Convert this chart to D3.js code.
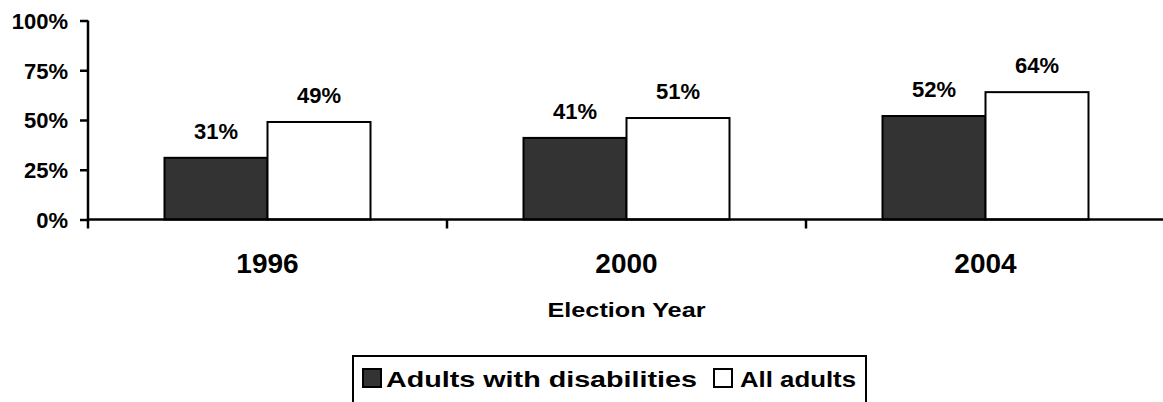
<!DOCTYPE html>
<html>
<head>
<meta charset="utf-8">
<script src="https://cdn.jsdelivr.net/npm/d3@7"></script>
<style>
  html, body { margin: 0; padding: 0; background: #fff; }
  svg { display: block; }
  text { font-family: "Liberation Sans", Arial, Helvetica, sans-serif; font-weight: bold; fill: #000; }
</style>
</head>
<body>
<svg id="chart" width="1163" height="402"></svg>
<script>
// Election years on the x axis
const years = ["1996", "2000", "2004"];
// Series names, in legend order
const seriesNames = ["Adults with disabilities", "All adults"];
// Voting rate (%) by year for each series
const disabledAdults = [31, 41, 52];
const allAdults = [49, 51, 64];
// Y axis tick values (%)
const yTicks = [0, 25, 50, 75, 100];

const seriesValues = [disabledAdults, allAdults];
const fills = ["#333333", "#ffffff"];

const svg = d3.select("#chart");
const plot = { left: 88, right: 1165, top: 20.5, bottom: 219.5 };

const y = d3.scaleLinear().domain([0, 100]).range([plot.bottom, plot.top]);
const x0 = d3.scaleBand().domain(years).range([plot.left, plot.right]).padding(0);
const bw = x0.bandwidth();
const x1 = d3.scaleBand().domain(seriesNames).range([bw * 0.2131, bw * 0.7869]).padding(0);

// Bars
const groups = svg.append("g").selectAll("g")
  .data(years)
  .join("g")
  .attr("transform", d => `translate(${x0(d)},0)`);

groups.selectAll("rect")
  .data((d, i) => seriesNames.map((s, j) => ({ s, v: seriesValues[j][i], j })))
  .join("rect")
  .attr("x", d => x1(d.s))
  .attr("y", d => y(d.v))
  .attr("width", x1.bandwidth())
  .attr("height", d => y(0) - y(d.v))
  .attr("fill", d => fills[d.j])
  .attr("stroke", "#000")
  .attr("stroke-width", 2);

// Value labels above bars
groups.selectAll("text.val")
  .data((d, i) => seriesNames.map((s, j) => ({ s, v: seriesValues[j][i] })))
  .join("text")
  .attr("class", "val")
  .attr("x", d => x1(d.s) + x1.bandwidth() / 2)
  .attr("y", d => y(d.v) - 19)
  .attr("text-anchor", "middle")
  .style("font-size", "22px")
  .text(d => d.v + "%");

// Y axis
const yAxis = d3.axisLeft(y).tickValues(yTicks).tickFormat(d => d + "%").tickSize(8).tickPadding(12);
const gy = svg.append("g").attr("transform", `translate(${plot.left},0)`).call(yAxis);
gy.select(".domain").remove();
gy.selectAll(".tick line").attr("stroke", "#000").attr("stroke-width", 2.5);
gy.selectAll(".tick text").style("font-size", "22px").attr("fill", "#000")
  .attr("font-family", null).attr("dy", "0.36em");
gy.append("line")
  .attr("x1", 0).attr("x2", 0)
  .attr("y1", plot.top).attr("y2", plot.bottom + 9)
  .attr("stroke", "#000").attr("stroke-width", 2.5);

// X axis: baseline with ticks at category boundaries
const gx = svg.append("g").attr("transform", `translate(0,${plot.bottom})`);
gx.append("line")
  .attr("x1", plot.left).attr("x2", plot.right)
  .attr("y1", 0).attr("y2", 0)
  .attr("stroke", "#000").attr("stroke-width", 2.5);
gx.selectAll("line.sep")
  .data(years.map(d => x0(d) + bw))
  .join("line")
  .attr("class", "sep")
  .attr("x1", d => d).attr("x2", d => d)
  .attr("y1", 0).attr("y2", 9)
  .attr("stroke", "#000").attr("stroke-width", 2.5);
gx.selectAll("text.cat")
  .data(years)
  .join("text")
  .attr("class", "cat")
  .attr("x", d => x0(d) + bw / 2)
  .attr("y", 53)
  .attr("text-anchor", "middle")
  .style("font-size", "28px")
  .text(d => d);

// Axis title
svg.append("text")
  .attr("x", (plot.left + plot.right) / 2)
  .attr("y", 317)
  .attr("text-anchor", "middle")
  .attr("textLength", 158)
  .attr("lengthAdjust", "spacingAndGlyphs")
  .style("font-size", "21px")
  .text("Election Year");

// Legend
const lg = svg.append("g");
lg.append("rect")
  .attr("x", 353).attr("y", 356)
  .attr("width", 513).attr("height", 60)
  .attr("fill", "#fff").attr("stroke", "#000").attr("stroke-width", 2);
const items = [{ x: 363, tx: 386, len: 311 }, { x: 714, tx: 740, len: 116 }];
seriesNames.forEach((s, j) => {
  lg.append("rect")
    .attr("x", items[j].x).attr("y", 369)
    .attr("width", 18).attr("height", 18)
    .attr("fill", fills[j]).attr("stroke", "#000").attr("stroke-width", 2);
  lg.append("text")
    .attr("x", items[j].tx).attr("y", 387)
    .attr("textLength", items[j].len)
    .attr("lengthAdjust", "spacingAndGlyphs")
    .style("font-size", "22px")
    .text(s);
});
</script>
</body>
</html>
